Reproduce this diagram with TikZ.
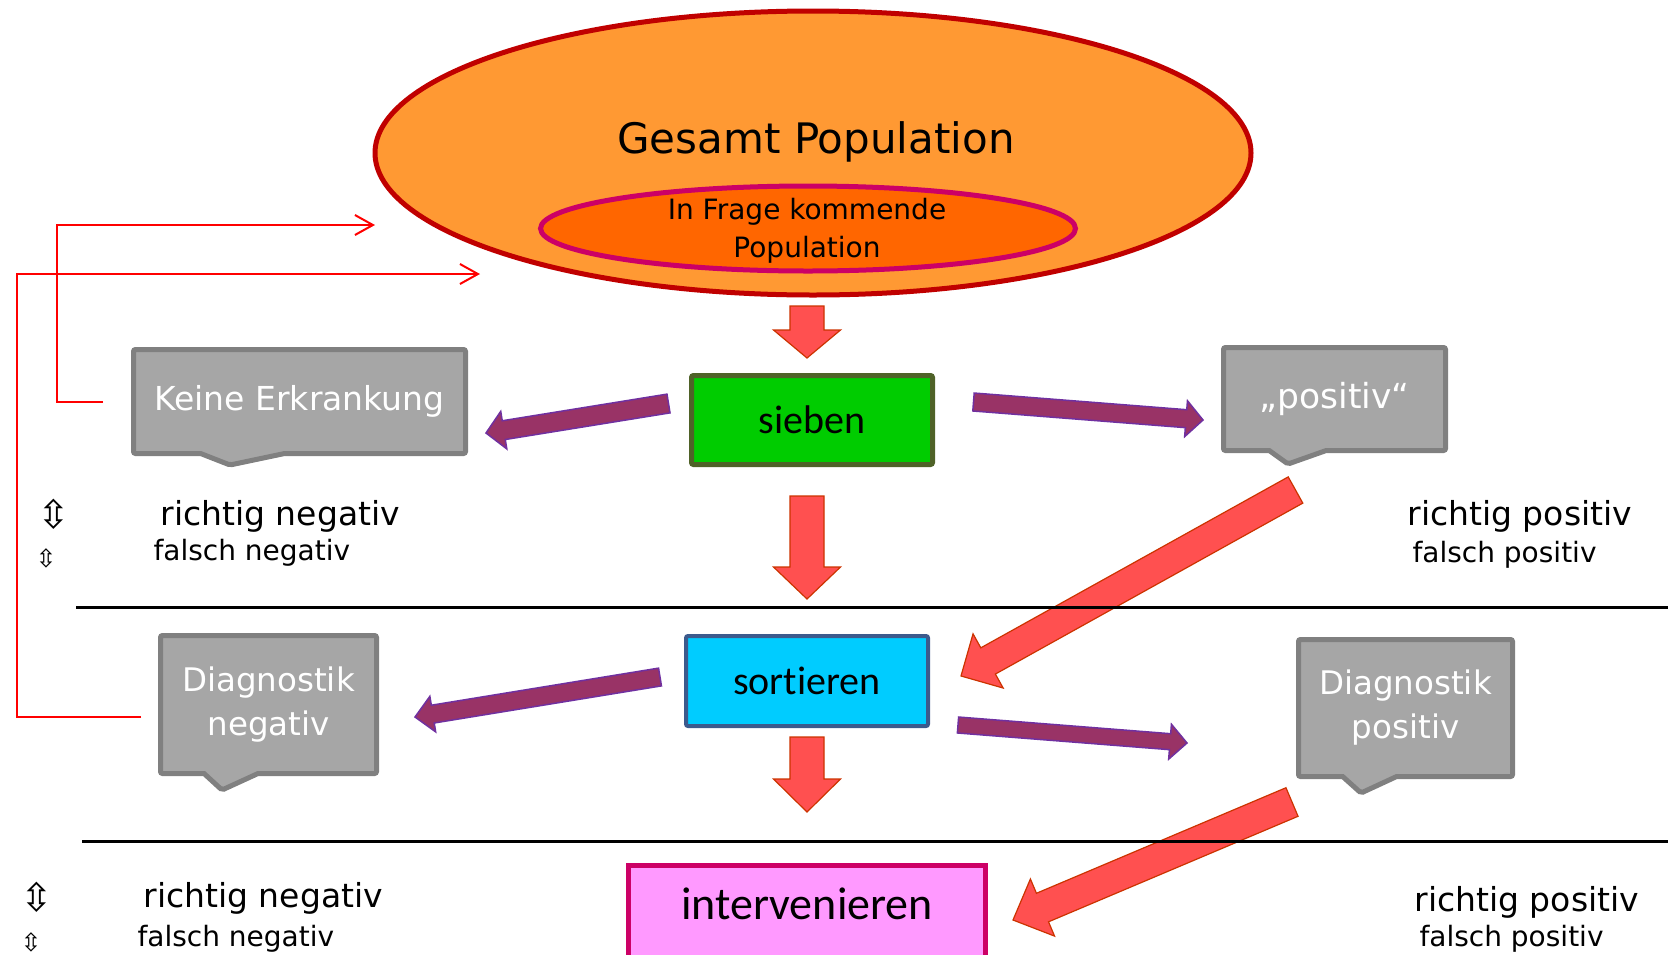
\documentclass[tikz,border=0pt]{standalone}
\usepackage{fontspec}
\setmainfont{DejaVu Sans}
\newfontfamily\carlito{Carlito}[Ligatures=NoCommon]
\usepackage{xcolor}
\usepackage{tikz}
\usetikzlibrary{shapes,shapes.geometric,shapes.callouts,arrows.meta,positioning,calc}

\definecolor{popfill}{HTML}{FF9933}
\definecolor{popline}{HTML}{C00000}
\definecolor{subfill}{HTML}{FF6600}
\definecolor{subline}{HTML}{CC0066}
\definecolor{redfill}{HTML}{FF5050}
\definecolor{rededge}{HTML}{CC3300}
\definecolor{purfill}{HTML}{993366}
\definecolor{puredge}{HTML}{7030A0}
\definecolor{boxfill}{HTML}{A6A6A6}
\definecolor{boxedge}{HTML}{808080}
\definecolor{siebfill}{HTML}{00CC00}
\definecolor{siebedge}{HTML}{4F6228}
\definecolor{sortfill}{HTML}{00CCFF}
\definecolor{sortedge}{HTML}{3C5A8C}
\definecolor{intfill}{HTML}{FF99FF}
\definecolor{intedge}{HTML}{CC0066}

% block arrow: [style]{tail}{tip}{shaft half width}{head half width}{head length}
\newcommand\blockarrow[6][]{%
  \coordinate (ba neck) at ($(#3)!#6!(#2)$);
  \draw[#1] ($(#2)!#4!90:(#3)$) -- ($(ba neck)!#4!-90:(#2)$) -- ($(ba neck)!#5!-90:(#2)$)
    -- (#3) -- ($(ba neck)!#5!90:(#2)$) -- ($(ba neck)!#4!90:(#2)$) -- ($(#2)!#4!-90:(#3)$) -- cycle;
}

\begin{document}
\begin{tikzpicture}[x=1pt,y=-1pt,
  greybox/.style={rectangle callout,fill=boxfill,draw=boxedge,line width=5pt,rounded corners=2pt,
    text=white,align=center,inner sep=0pt,font=\fontsize{32.5}{44}\selectfont},
  redarrow/.style={fill=redfill,draw=rededge,line width=1.2pt},
  purarrow/.style={fill=purfill,draw=puredge,line width=1.5pt},
  thinlink/.style={draw=red,line width=2pt,-{Straight Barb[length=18pt,width=20pt]}},
  bigtxt/.style={anchor=base west,font=\fontsize{33}{40}\selectfont},
  smalltxt/.style={anchor=base west,font=\fontsize{28}{34}\selectfont}]
\useasboundingbox (0,0) rectangle (1668,954);

% Population
\node[ellipse,draw=popline,fill=popfill,line width=5pt,minimum width=876pt,minimum height=284pt,inner sep=0pt] (gesamt) at (813,153) {};
\node[ellipse,draw=subline,fill=subfill,line width=5pt,minimum width=535pt,minimum height=85pt,inner sep=0pt] (frage) at (808,228.5) {};
\node[anchor=base,font=\fontsize{42}{50}\selectfont] (gesamttxt) at (816,153) {Gesamt Population};
\node[align=center,font=\fontsize{28}{38}\selectfont] (fragetxt) at (807,231) {In Frage kommende\\Population};

% Schritte
\node[draw=siebedge,fill=siebfill,line width=5pt,rounded corners=2pt,minimum width=241pt,minimum height=89pt,
  font=\carlito\fontsize{40}{48}\selectfont] (sieben) at (812,420) {sieben};
\node[draw=sortedge,fill=sortfill,line width=4pt,rounded corners=2pt,minimum width=242pt,minimum height=90pt,
  font=\carlito\fontsize{40}{48}\selectfont] (sortieren) at (807,681) {sortieren};
\node[draw=intedge,fill=intfill,line width=5pt,minimum width=357pt,minimum height=100pt,text height=32pt,text depth=25pt,
  font=\carlito\fontsize{46}{54}\selectfont] (intervenieren) at (807,915.5) {intervenieren};

% Ergebnisse
\node[greybox,font=\fontsize{33}{44}\selectfont,minimum width=332pt,minimum height=104pt,callout absolute pointer={(230,465)},callout pointer width=84pt] (keine) at (299.5,401.5) {Keine Erkrankung};
\node[greybox,font=\fontsize{34.5}{44}\selectfont,minimum width=222pt,minimum height=103pt,callout absolute pointer={(1288,464)},callout pointer width=57pt] (positiv) at (1334.5,399) {„positiv“};
\node[greybox,minimum width=216pt,minimum height=138pt,callout absolute pointer={(222,790)},callout pointer width=54pt] (diagneg) at (268.5,704.5) {Diagnostik\\negativ};
\node[greybox,minimum width=214pt,minimum height=137pt,callout absolute pointer={(1361,793)},callout pointer width=54pt] (diagpos) at (1405.5,708) {Diagnostik\\positiv};

% Block arrows
\coordinate (d1a) at (807,306);    \coordinate (d1b) at (807,358);
\coordinate (d2a) at (807,496);    \coordinate (d2b) at (807,599);
\coordinate (d3a) at (807,737);    \coordinate (d3b) at (807,812);
\coordinate (r1a) at (1295.5,490); \coordinate (r1b) at (961,676);
\coordinate (r2a) at (1292,802);   \coordinate (r2b) at (1013,920);
\coordinate (p1a) at (668.5,403.5);\coordinate (p1b) at (486,433);
\coordinate (p2a) at (973.5,402);  \coordinate (p2b) at (1203,420);
\coordinate (p3a) at (660,677);    \coordinate (p3b) at (415,717);
\coordinate (p4a) at (958,725);    \coordinate (p4b) at (1187,743);
\blockarrow[redarrow]{d1a}{d1b}{17pt}{33.5pt}{28pt}
\blockarrow[redarrow]{d2a}{d2b}{17pt}{33.5pt}{32pt}
\blockarrow[redarrow]{d3a}{d3b}{17pt}{33.5pt}{33pt}
\blockarrow[redarrow]{r1a}{r1b}{15pt}{31pt}{31pt}
\blockarrow[redarrow]{r2a}{r2b}{15.5pt}{31pt}{32pt}
\blockarrow[purarrow]{p1a}{p1b}{9.5pt}{19pt}{18pt}
\blockarrow[purarrow]{p2a}{p2b}{9pt}{18pt}{17pt}
\blockarrow[purarrow]{p3a}{p3b}{9pt}{18pt}{18pt}
\blockarrow[purarrow]{p4a}{p4b}{8pt}{17.5pt}{17pt}

% Trennlinien
\draw[line width=3pt] (76,607) -- (1668,607);
\draw[line width=3pt] (82,841) -- (1668,841);

% Rueckfuehrung
\coordinate (inA) at (375,225);
\coordinate (inB) at (480,274);
\draw[thinlink] ([xshift=-28pt]keine.west) -- ++(-46,0) |- (inA);
\draw[thinlink] ([xshift=-17pt,yshift=-12pt]diagneg.west) -- ++(-124,0) |- (inB);

% Raten
\node[bigtxt] (rn1) at (157,525) {richtig negativ};
\node[smalltxt] (fn1) at (150,560) {falsch negativ};
\node[bigtxt] (rp1) at (1404,525) {richtig positiv};
\node[smalltxt] (fp1) at (1409,562) {falsch positiv};
\node[bigtxt] (rn2) at (140,907) {richtig negativ};
\node[smalltxt] (fn2) at (134,946) {falsch negativ};
\node[bigtxt] (rp2) at (1411,911) {richtig positiv};
\node[smalltxt] (fp2) at (1416,946) {falsch positiv};
\node[font=\fontsize{39}{44}\selectfont] (sym1) at (54,514) {⇳};
\node[font=\fontsize{25}{30}\selectfont] (sym2) at (46,558) {⇳};
\node[font=\fontsize{39}{44}\selectfont] (sym3) at (37,897) {⇳};
\node[font=\fontsize{25}{30}\selectfont] (sym4) at (31,942) {⇳};
\end{tikzpicture}
\end{document}
